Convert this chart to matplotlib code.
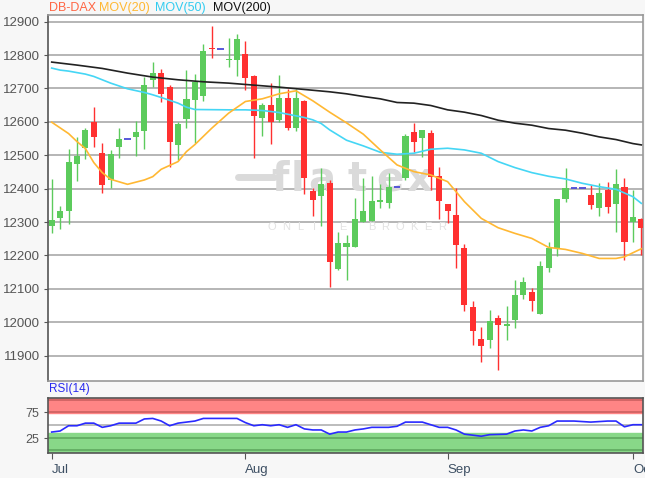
import matplotlib
matplotlib.use("Agg")
import matplotlib.pyplot as plt
from matplotlib.lines import Line2D
import numpy as np

plt.rcParams['font.family'] = ['Liberation Sans', 'DejaVu Sans']

# daily candles (index = trading day)
opens = [12289, 12311, 12333, 12473, 12523, 12599, 12507, 12426, 12526, 12549,
         12555, 12573, 12724, 12747, 12705, 12531, 12609, 12665, 12678, 12822,
         12818, 12786, 12784, 12804, 12738, 12613, 12650, 12605, 12671, 12583,
         12661, 12393, 12379, 12416, 12159, 12226, 12226, 12299, 12304, 12361,
         12358, 12406, 12433, 12571, 12551, 12568, 12438, 12355, 12321, 12221,
         12045, 11949, 11946, 12013, 11990, 12006, 12083, 12091, 12024, 12161,
         12221, 12369, 12402, 12402, 12381, 12343, 12396, 12354, 12406, 12299,
         12308]
highs = [12428, 12349, 12518, 12556, 12581, 12644, 12536, 12516, 12581, 12549,
         12603, 12733, 12779, 12759, 12711, 12599, 12754, 12744, 12833, 12886,
         12818, 12851, 12863, 12841, 12741, 12655, 12716, 12739, 12699, 12697,
         12666, 12401, 12461, 12426, 12270, 12261, 12371, 12431, 12438, 12413,
         12446, 12406, 12564, 12598, 12575, 12576, 12466, 12355, 12403, 12235,
         12063, 11986, 12037, 12023, 12048, 12126, 12134, 12103, 12184, 12241,
         12368, 12461, 12402, 12402, 12411, 12416, 12421, 12458, 12431, 12396,
         12313]
lows = [12266, 12279, 12293, 12423, 12488, 12526, 12386, 12403, 12493, 12549,
        12499, 12519, 12703, 12659, 12466, 12486, 12581, 12536, 12663, 12791,
        12818, 12763, 12738, 12696, 12491, 12559, 12533, 12599, 12576, 12573,
        12383, 12318, 12289, 12106, 12156, 12126, 12226, 12299, 12304, 12341,
        12341, 12406, 12426, 12511, 12496, 12396, 12309, 12298, 12161, 12033,
        11931, 11881, 11924, 11856, 11946, 11984, 12071, 12034, 12024, 12149,
        12199, 12361, 12402, 12402, 12339, 12319, 12326, 12269, 12186, 12239,
        12201]
closes = [12306, 12334, 12481, 12498, 12575, 12555, 12411, 12503, 12550, 12549,
          12569, 12711, 12746, 12684, 12540, 12594, 12668, 12718, 12811, 12817,
          12818, 12789, 12848, 12731, 12619, 12650, 12601, 12671, 12581, 12671,
          12433, 12365, 12413, 12179, 12237, 12237, 12309, 12334, 12363, 12365,
          12405, 12406, 12557, 12541, 12575, 12436, 12363, 12333, 12231, 12053,
          11975, 11928, 12003, 11993, 11995, 12083, 12119, 12063, 12169, 12221,
          12368, 12403, 12402, 12402, 12351, 12388, 12346, 12413, 12241, 12314,
          12283]

# moving averages, sampled along the chart
mov20_x = [0, 2, 3, 4, 5, 6, 7, 9, 11, 12, 13, 15, 16, 17, 19, 21, 23, 25, 27,
           29, 31, 33, 35, 37, 39, 41, 43, 45, 47, 49, 51, 53, 55, 57, 59, 61,
           63, 65, 67, 68, 70]
mov20_y = [12599, 12565, 12541, 12520, 12478, 12448, 12428, 12413, 12426, 12436,
           12458, 12481, 12511, 12532, 12581, 12626, 12661, 12669, 12684, 12693,
           12663, 12629, 12597, 12563, 12516, 12471, 12451, 12441, 12421, 12361,
           12311, 12283, 12266, 12251, 12224, 12218, 12206, 12191, 12191, 12196,
           12220]
mov50_x = [0, 1, 2, 4, 5, 7, 9, 11, 12, 13, 15, 16, 17, 21, 23, 25, 27, 29, 30,
           31, 32, 33, 35, 37, 39, 41, 43, 45, 47, 49, 51, 53, 55, 57, 59, 61,
           63, 65, 67, 69, 70]
mov50_y = [12761, 12755, 12752, 12743, 12736, 12716, 12699, 12688, 12681, 12673,
           12656, 12644, 12637, 12636, 12636, 12634, 12628, 12618, 12613, 12606,
           12595, 12576, 12545, 12528, 12509, 12503, 12506, 12518, 12521, 12516,
           12506, 12481, 12463, 12448, 12437, 12429, 12416, 12406, 12398, 12376,
           12356]
mov200_x = [0, 3, 6, 9, 12, 15, 18, 21, 24, 27, 30, 33, 35, 37, 39, 41, 43, 45,
            47, 49, 51, 53, 55, 57, 59, 61, 63, 65, 67, 69, 70]
mov200_y = [12779, 12770, 12760, 12746, 12734, 12726, 12720, 12716, 12710, 12704,
            12697, 12690, 12684, 12676, 12669, 12658, 12656, 12649, 12636, 12629,
            12619, 12605, 12596, 12590, 12580, 12575, 12566, 12555, 12547, 12535,
            12531]

rsi_x = [0, 1, 2, 3, 4, 5, 6, 7, 8, 10, 11, 12, 13, 14, 15, 17, 18, 20, 22, 23,
         24, 25, 26, 27, 28, 29, 30, 31, 32, 33, 34, 35, 36, 37, 38, 40, 41, 42,
         44, 46, 47, 48, 49, 51, 52, 54, 55, 56, 57, 58, 59, 60, 62, 64, 66, 67,
         68, 69, 70]
rsi_y = [37, 39, 49, 49, 54, 54, 46, 49, 54, 54, 62, 63, 58, 49, 54, 58, 63, 63,
         63, 55, 49, 51, 49, 51, 46, 51, 43, 41, 41, 33, 37, 37, 41, 43, 46, 46,
         48, 56, 56, 46, 46, 41, 33, 29, 32, 33, 39, 41, 39, 46, 49, 58, 58, 56,
         58, 58, 47, 51, 51]

month_pos = [0, 23, 47, 69]
month_labels = ['Jul', 'Aug', 'Sep', 'Oct']

green = '#5ccb5c'
red = '#ff3030'
flat = '#4b4bd8'

W, H = 645, 478
fig = plt.figure(figsize=(W / 100, H / 100), dpi=100, facecolor='#f7f7f7')
ax = fig.add_axes([48 / W, 1 - 381 / H, 595 / W, 366 / H])
rax = fig.add_axes([48 / W, 1 - 453 / H, 595 / W, 55 / H], sharex=ax)
tf = fig.transFigure

# watermark (behind the candles)
wm = '#dadada'
for ch, px in zip('flatex', [280, 297, 322, 357, 390, 419]):
    ax.text(px / W, 1 - 180 / H, ch, transform=tf, fontsize=29, fontweight='bold',
            color=wm, ha='center', va='center', family='DejaVu Sans', zorder=1)
ax.add_line(Line2D([238 / W, 274 / W], [1 - 177 / H] * 2, transform=tf,
                   color=wm, lw=5, solid_capstyle='round', zorder=1))
for k, ch in enumerate('ONLINE BROKER'):
    if ch != ' ':
        ax.text((272 + k * 14.2) / W, 1 - 227 / H, ch, transform=tf, fontsize=8,
                color='#e2e2e2', ha='center', va='center', zorder=1)

x = np.arange(len(opens))
o = np.array(opens)
h = np.array(highs)
l = np.array(lows)
c = np.array(closes)
is_flat = h == l
up = (c >= o) & ~is_flat
dn = (c < o) & ~is_flat

for mask, col in [(up, green), (dn, red)]:
    ax.vlines(x[mask], l[mask], h[mask], color=col, lw=1, zorder=3)
    bottom = np.minimum(o[mask], c[mask])
    height = np.maximum(np.abs(c[mask] - o[mask]), 3)
    ax.bar(x[mask], height, bottom=bottom, width=0.72, color=col, zorder=4)
ax.hlines(c[is_flat], x[is_flat] - 0.4, x[is_flat] + 0.4, color=flat, lw=1.3, zorder=4)

ax.plot(mov200_x, mov200_y, color='#222222', lw=1.2, zorder=5)
ax.plot(mov50_x, mov50_y, color='#45d6f5', lw=1.2, zorder=5)
ax.plot(mov20_x, mov20_y, color='#ffb833', lw=1.2, zorder=5)

ax.set_xlim(-0.44, 70.2)
ax.set_ylim(11824, 12920)
ax.set_yticks(range(11900, 13000, 100))
ax.grid(axis='y', color='#b0b0b0', lw=1.3)
ax.set_axisbelow(True)
ax.tick_params(axis='y', colors='#555555', labelsize=9.5, length=3, pad=3)
ax.tick_params(axis='x', bottom=False, labelbottom=False)
for s in ax.spines.values():
    s.set_color('#999999')
    s.set_linewidth(1.2)
ax.spines['left'].set_color('#555555')

# RSI panel
rax.set_facecolor('white')
rax.set_ylim(-3, 102)
rax.axhspan(72.5, 102, color='#ff8585', zorder=1)
rax.axhline(75, color='#cc6060', lw=1.2, zorder=2)
rax.axhline(97.5, color='#cc6060', lw=1.2, zorder=2)
rax.axhspan(-3, 35, color='#88d888', zorder=1)
rax.axhline(25, color='#5ea85e', lw=1.2, zorder=2)
rax.axhline(2, color='#5ea85e', lw=1.2, zorder=2)
rax.axhline(50, color='#b0b0b0', lw=1.2, zorder=2)
rax.plot(rsi_x, rsi_y, color='#2a2aff', lw=1.2, zorder=3)
rax.set_yticks([25, 75])
rax.tick_params(axis='y', colors='#555555', labelsize=9, length=3, pad=3)
rax.set_xticks(month_pos)
rax.set_xticklabels(month_labels, ha='left')
rax.tick_params(axis='x', colors='#555555', labelcolor='#3d4f63', labelsize=9.5,
                length=4, pad=4)
for s in rax.spines.values():
    s.set_color('#555555')
    s.set_linewidth(1.2)
fig.text(49 / W, 1 - 389 / H, 'RSI(14)', color='#2a2aee', fontsize=8.5,
         va='center', ha='left')

# header
for label, col, px in [('DB-DAX', '#ff6644', 49), ('MOV(20)', '#ffb833', 99),
                       ('MOV(50)', '#33ccf0', 155), ('MOV(200)', '#111111', 213)]:
    fig.text(px / W, 1 - 8 / H, label, color=col, fontsize=9, va='center', ha='left')

fig.savefig('out.png', dpi=100, facecolor=fig.get_facecolor())
